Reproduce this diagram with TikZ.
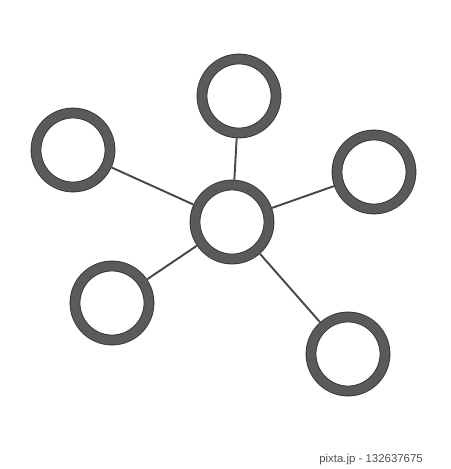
\documentclass[tikz,border=0pt]{standalone}
\usepackage{fontspec}
\setsansfont{Liberation Sans}
\usetikzlibrary{positioning}
\definecolor{ringgray}{HTML}{5A5A5A}
\definecolor{rimgray}{HTML}{333333}
\definecolor{linkgray}{HTML}{474747}
\definecolor{textgray}{HTML}{505050}

\begin{document}
\begin{tikzpicture}[node distance=2cm,on grid]
\tikzstyle{ring} = [circle,minimum size=1.48cm,inner sep=0pt,draw=rimgray,line width=0.5pt,double=ringgray,double distance=0.18cm,fill=white,outer sep=0.11cm]
\tikzstyle{link} = [draw=linkgray,line width=1.1pt]
    \useasboundingbox (0,0) rectangle (9,-9.38);
    \node[ring] (hub) at (4.64,-4.44) {};
    \node[ring] (top) [above right =2.52cm and 0.14cm of hub] {};
    \node[ring] (left) [above left =1.44cm and 3.18cm of hub] {};
    \node[ring] (right) [above right =1.0cm and 2.84cm of hub] {};
    \node[ring] (lowleft) [below left =1.62cm and 2.4cm of hub] {};
    \node[ring] (lowright) [below right =2.64cm and 2.32cm of hub] {};

    \draw[link] (hub) -- (top);
    \draw[link] (hub) -- (left);
    \draw[link] (hub) -- (right);
    \draw[link] (hub) -- (lowleft);
    \draw[link] (hub) -- (lowright);

    \node[text=textgray,font=\sffamily\fontsize{6.5}{8}\selectfont,anchor=east] (caption) at (8.58,-9.2) {pixta.jp - 132637675};
\end{tikzpicture}
\end{document}
